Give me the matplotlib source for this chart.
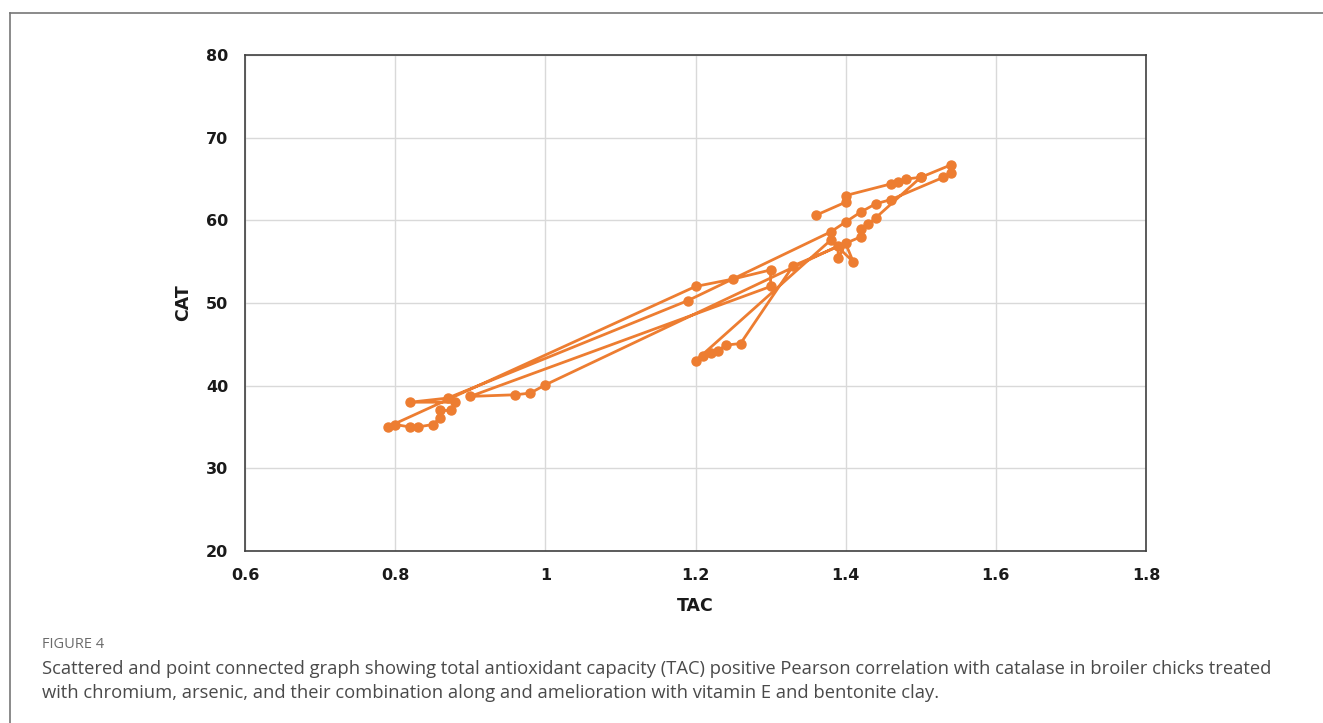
import matplotlib.pyplot as plt
from matplotlib.lines import Line2D

# TAC / CAT pairs, in the order they are connected
tac = [1.36, 1.40, 1.40, 1.46, 1.47, 1.48, 1.50, 1.54, 1.54, 1.53,
       1.46, 1.44, 1.42, 1.40, 1.38, 1.19, 0.87, 0.82, 0.88, 0.875,
       0.86, 0.86, 0.85, 0.83, 0.82, 0.80, 0.79, 1.20, 1.25, 1.30,
       1.30, 0.90, 0.96, 0.98, 1.00, 1.39, 1.39, 1.40, 1.41, 1.38,
       1.20, 1.21, 1.22, 1.23, 1.24, 1.26, 1.33, 1.42, 1.42, 1.43,
       1.44, 1.50]
cat = [60.6, 62.2, 63.0, 64.4, 64.6, 65.0, 65.2, 66.7, 65.7, 65.2,
       62.5, 62.0, 61.0, 59.8, 58.6, 50.3, 38.5, 38.0, 38.0, 37.0,
       37.0, 36.1, 35.3, 35.0, 35.0, 35.3, 35.0, 52.0, 52.9, 54.0,
       52.0, 38.7, 38.9, 39.1, 40.1, 56.9, 55.4, 57.2, 55.0, 57.6,
       43.0, 43.6, 44.0, 44.2, 44.9, 45.1, 54.5, 58.0, 59.0, 59.5,
       60.3, 65.2]

xticks = [0.6, 0.8, 1.0, 1.2, 1.4, 1.6, 1.8]
xticklabels = ['0.6', '0.8', '1', '1.2', '1.4', '1.6', '1.8']
yticks = [20, 30, 40, 50, 60, 70, 80]

caption_head = 'FIGURE 4'
caption = ('Scattered and point connected graph showing total antioxidant capacity (TAC) positive Pearson correlation with catalase in broiler chicks treated\n'
           'with chromium, arsenic, and their combination along and amelioration with vitamin E and bentonite clay.')

W, H = 1323, 723
fig = plt.figure(figsize=(W / 100, H / 100), dpi=100)
ax = fig.add_axes([245 / W, 1 - 551 / H, (1146 - 245) / W, (551 - 55) / H])

ax.plot(tac, cat, color='#ED7D31', lw=2, marker='o', ms=6.5, zorder=3)

ax.set_xlim(0.6, 1.8)
ax.set_ylim(20, 80)
ax.set_xticks(xticks)
ax.set_xticklabels(xticklabels)
ax.set_yticks(yticks)
ax.grid(True, color='#d9d9d9', lw=1)
ax.set_axisbelow(True)
ax.tick_params(length=0, labelsize=11.5, colors='#1a1a1a', pad=12)
for lab in ax.get_xticklabels() + ax.get_yticklabels():
    lab.set_fontweight('bold')
for s in ax.spines.values():
    s.set_color('#404040')
    s.set_linewidth(1.2)

ax.set_xlabel('TAC', fontsize=12.5, fontweight='bold', color='#1a1a1a', labelpad=10)
ax.set_ylabel('CAT', fontsize=12.5, fontweight='bold', color='#1a1a1a', labelpad=10)

# outer frame of the figure panel
fig.add_artist(Line2D([10 / W, 10 / W], [0, 1 - 13 / H], color='#777777', lw=1.2))
fig.add_artist(Line2D([10 / W, 1], [1 - 13 / H, 1 - 13 / H], color='#777777', lw=1.2))

fig.text(42 / W, 1 - 645 / H, caption_head, fontsize=10.5, color='#6b6b6b',
         family='Open Sans', va='center')
fig.text(42 / W, 1 - 681 / H, caption, fontsize=13.2, color='#4a4a4a',
         family='Open Sans', va='center', linespacing=1.4)

fig.savefig('out.png', dpi=100)
